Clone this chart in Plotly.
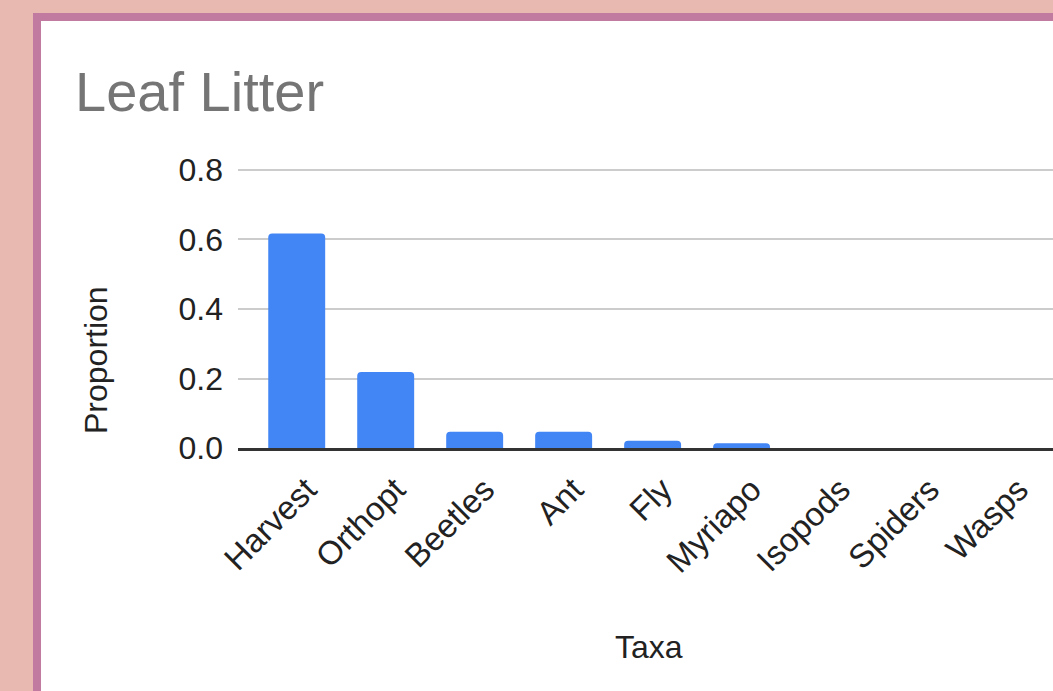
import plotly.graph_objects as go

categories = ["Harvest", "Orthopt", "Beetles", "Ant", "Fly", "Myriapo", "Isopods", "Spiders", "Wasps"]
proportions = [0.617, 0.219, 0.047, 0.047, 0.021, 0.0135, 0.0, 0.0, 0.0]
y_ticks = [0.0, 0.2, 0.4, 0.6, 0.8]
y_tick_labels = ["0.0", "0.2", "0.4", "0.6", "0.8"]

W, H = 1053, 691
FONT = "Arial, Liberation Sans, sans-serif"

fig = go.Figure()
fig.add_trace(go.Bar(
    x=categories, y=proportions,
    marker=dict(color="#4285F4", cornerradius=4, line=dict(width=0)),
    width=0.64,
))

fig.update_layout(
    width=W, height=H,
    margin=dict(l=0, r=0, t=0, b=0),
    paper_bgcolor="#E8B9B0",
    plot_bgcolor="white",
    showlegend=False,
    font=dict(family=FONT, color="#222222"),
    shapes=[dict(
        type="rect", xref="paper", yref="paper", layer="below",
        x0=37 / W, x1=1.05, y0=-0.05, y1=1 - 17 / H,
        fillcolor="white", line=dict(color="#C27BA0", width=8),
    )],
    xaxis=dict(
        domain=[238 / W, 1], range=[-0.66, 8.5],
        showgrid=False, showline=True, linecolor="#333333", linewidth=3,
        tickangle=-45, tickfont=dict(size=33, color="#222222", family=FONT),
        ticks="", ticklabelstandoff=6, ticklabelshift=10,
        automargin=False, fixedrange=True,
    ),
    yaxis=dict(
        domain=[(H - 448) / H, (H - 167.9) / H], range=[0, 0.806],
        tickvals=y_ticks, ticktext=y_tick_labels,
        showgrid=True, gridcolor="#CCCCCC", gridwidth=2,
        zeroline=False, showline=False,
        tickfont=dict(size=32, color="#222222", family=FONT),
        ticks="", ticklabelstandoff=14, automargin=False, fixedrange=True,
    ),
    annotations=[
        dict(text="Leaf Litter", xref="paper", yref="paper",
             x=73 / W, y=1 - 91 / H, xanchor="left", yanchor="middle",
             showarrow=False, font=dict(size=56, color="#757575", family=FONT)),
        dict(text="Proportion", xref="paper", yref="paper",
             x=96 / W, y=1 - 360 / H, xanchor="center", yanchor="middle",
             textangle=-90, showarrow=False,
             font=dict(size=32, color="#222222", family=FONT)),
        dict(text="Taxa", xref="paper", yref="paper",
             x=649 / W, y=1 - 647 / H, xanchor="center", yanchor="middle",
             showarrow=False, font=dict(size=32, color="#222222", family=FONT)),
    ],
)

fig.write_html("out.html")
